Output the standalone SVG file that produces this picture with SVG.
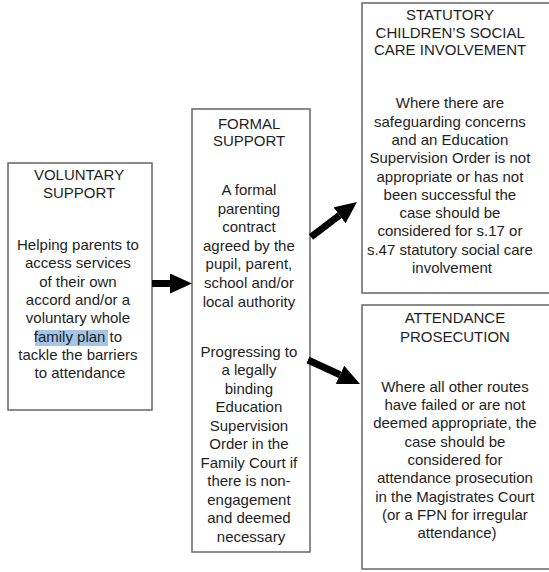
<svg xmlns="http://www.w3.org/2000/svg" width="549" height="572" viewBox="0 0 549 572">
<defs>
<style>
.box{fill:#ffffff;stroke:#666666;stroke-width:1.5}
.t{font-family:"Liberation Sans",Arial,sans-serif;font-size:15px;fill:#1e1e1e;text-anchor:middle}
.arr{stroke:#000;stroke-width:7;fill:none}
</style>
<marker id="head" markerUnits="userSpaceOnUse" markerWidth="22" markerHeight="20" viewBox="0 0 22 20" refX="0" refY="10" orient="auto">
<path d="M0,0 L22,10 L0,20 Z" fill="#000"/>
</marker>
</defs>
<rect width="549" height="572" fill="#ffffff"/>
<g id="voluntary">
<rect class="box" x="8" y="163" width="144" height="247"/>
<rect x="35" y="330" width="73" height="16" fill="#a3c6e6"/>
<text class="t" x="81">
<tspan x="81" y="180">VOLUNTARY</tspan>
<tspan x="81" y="198.3">SUPPORT</tspan>
<tspan x="80" y="250">Helping parents to</tspan>
<tspan x="80" y="268.3">access services</tspan>
<tspan x="80" y="286.6">of their own</tspan>
<tspan x="80" y="304.9">accord and/or a</tspan>
<tspan x="80" y="323.2">voluntary whole</tspan>
<tspan x="80" y="341.5">family plan to</tspan>
<tspan x="80" y="359.8">tackle the barriers</tspan>
<tspan x="80" y="378.1">to attendance</tspan>
</text>
</g>
<g id="formal">
<rect class="box" x="192" y="109" width="118" height="443"/>
<text class="t">
<tspan x="251" y="128.5">FORMAL</tspan>
<tspan x="251" y="146">SUPPORT</tspan>
<tspan x="251" y="195">A formal</tspan>
<tspan x="251" y="213.6">parenting</tspan>
<tspan x="251" y="232.2">contract</tspan>
<tspan x="251" y="250.8">agreed by the</tspan>
<tspan x="251" y="269.4">pupil, parent,</tspan>
<tspan x="251" y="288">school and/or</tspan>
<tspan x="251" y="306.6">local authority</tspan>
<tspan x="251" y="356.7">Progressing to</tspan>
<tspan x="251" y="375.2">a legally</tspan>
<tspan x="251" y="393.7">binding</tspan>
<tspan x="251" y="412.2">Education</tspan>
<tspan x="251" y="430.7">Supervision</tspan>
<tspan x="251" y="449.2">Order in the</tspan>
<tspan x="251" y="467.7">Family Court if</tspan>
<tspan x="251" y="486.2">there is non-</tspan>
<tspan x="251" y="504.7">engagement</tspan>
<tspan x="251" y="523.2">and deemed</tspan>
<tspan x="251" y="541.7">necessary</tspan>
</text>
</g>
<g id="statutory">
<rect class="box" x="362" y="3" width="200" height="290"/>
<text class="t">
<tspan x="452" y="20">STATUTORY</tspan>
<tspan x="452" y="37.5">CHILDREN’S SOCIAL</tspan>
<tspan x="452" y="55">CARE INVOLVEMENT</tspan>
<tspan x="452" y="108.3">Where there are</tspan>
<tspan x="452" y="126.6">safeguarding concerns</tspan>
<tspan x="452" y="144.9">and an Education</tspan>
<tspan x="452" y="163.2">Supervision Order is not</tspan>
<tspan x="452" y="181.5">appropriate or has not</tspan>
<tspan x="452" y="199.8">been successful the</tspan>
<tspan x="452" y="218.1">case should be</tspan>
<tspan x="452" y="236.4">considered for s.17 or</tspan>
<tspan x="452" y="254.7">s.47 statutory social care</tspan>
<tspan x="452" y="273">involvement</tspan>
</text>
</g>
<g id="prosecution">
<rect class="box" x="362" y="305" width="200" height="264"/>
<text class="t">
<tspan x="457" y="323.3">ATTENDANCE</tspan>
<tspan x="457" y="341.7">PROSECUTION</tspan>
<tspan x="457" y="391.7">Where all other routes</tspan>
<tspan x="457" y="410">have failed or are not</tspan>
<tspan x="457" y="428.3">deemed appropriate, the</tspan>
<tspan x="457" y="446.6">case should be</tspan>
<tspan x="457" y="464.9">considered for</tspan>
<tspan x="457" y="483.2">attendance prosecution</tspan>
<tspan x="457" y="501.5">in the Magistrates Court</tspan>
<tspan x="457" y="519.8">(or a FPN for irregular</tspan>
<tspan x="457" y="538.1">attendance)</tspan>
</text>
</g>
<g id="connectors">
<line class="arr" x1="152" y1="283.5" x2="170" y2="283.5" marker-end="url(#head)"/>
<line class="arr" x1="311" y1="237" x2="339.5" y2="215.3" marker-end="url(#head)"/>
<line class="arr" x1="308" y1="360" x2="340" y2="374.8" marker-end="url(#head)"/>
</g>
</svg>
